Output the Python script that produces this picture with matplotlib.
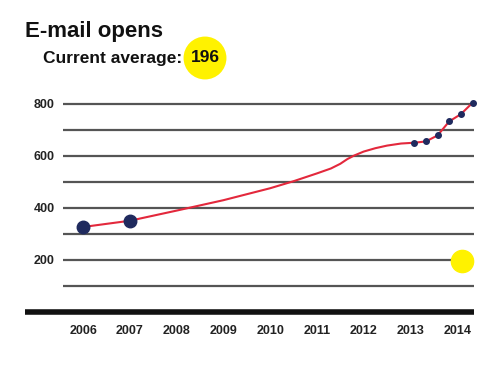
import matplotlib
matplotlib.use("Agg")
import matplotlib.pyplot as plt
from matplotlib import font_manager

names = {f.name for f in font_manager.fontManager.ttflist}
NARROW = "Liberation Sans Narrow" if "Liberation Sans Narrow" in names else "Liberation Sans"
MAIN = "Liberation Sans"

# Data
line_years = [2006, 2007, 2008, 2009, 2010, 2010.5, 2011, 2011.3, 2011.5, 2011.65,
              2011.8, 2012, 2012.25, 2012.5, 2012.8, 2013.08, 2013.33, 2013.58,
              2013.83, 2014.08, 2014.33]
line_vals = [327, 351, 390, 430, 476, 503, 533, 552, 570, 588,
             602, 617, 630, 640, 648, 651, 656, 679,
             733, 761, 805]
big_years = [2006, 2007]
big_vals = [327, 351]
small_years = [2013.08, 2013.33, 2013.58, 2013.83, 2014.08, 2014.33]
small_vals = [651, 656, 679, 733, 761, 805]
current_year = 2014.1
current_avg = 196
xticks = [2006, 2007, 2008, 2009, 2010, 2011, 2012, 2013, 2014]
grid_vals = [100, 200, 300, 400, 500, 600, 700, 800]
ylabels = [200, 400, 600, 800]

W, H = 500, 386
fig = plt.figure(figsize=(W / 100, H / 100), dpi=100)
fig.patch.set_facecolor("white")
ax = fig.add_axes([63 / W, (H - 312) / H, (474 - 63) / W, (312 - 98.8) / H])
ax.set_xlim(2005.57, 2014.36)
ax.set_ylim(0, 820)
for s in ax.spines.values():
    s.set_visible(False)

for g in grid_vals:
    ax.axhline(g, color="#555555", lw=1.6, zorder=1, solid_capstyle="butt")
ax.axhline(0, xmin=-0.092, xmax=1.0, color="#111111", lw=4, clip_on=False,
           zorder=2, solid_capstyle="butt")

ax.plot(line_years, line_vals, color="#e3283c", lw=1.5, zorder=3, clip_on=False,
        solid_joinstyle="round")
ax.plot(big_years, big_vals, "o", color="#1f2a5e", ms=9, zorder=4, clip_on=False)
ax.plot(small_years, small_vals, "o", color="#1f2a5e", ms=4, zorder=4, clip_on=False)
ax.plot([current_year], [current_avg], "o", color="#fff200", ms=16, zorder=4, clip_on=False)

ax.set_xticks(xticks)
ax.set_xticklabels([str(x) for x in xticks], fontfamily=NARROW, fontweight="bold",
                   fontsize=9, color="#222222")
ax.set_yticks(ylabels)
ax.set_yticklabels([str(v) for v in ylabels], fontfamily=NARROW, fontweight="bold",
                   fontsize=9, color="#222222")
ax.tick_params(axis="both", length=0)
ax.tick_params(axis="x", pad=9)
ax.tick_params(axis="y", pad=6)

fig.text(25 / W, 1 - 32 / H, "E-mail opens", fontfamily=MAIN, fontweight="bold",
         fontsize=16, color="#111111", va="center", ha="left")
fig.text(43 / W, 1 - 58 / H, "Current average:", fontfamily=MAIN, fontweight="bold",
         fontsize=12.5, color="#111111", va="center", ha="left")
fig.text(205 / W, 1 - 58 / H, str(current_avg), fontfamily=MAIN, fontweight="bold",
         fontsize=12.5, color="#111111", va="center", ha="center",
         bbox=dict(boxstyle="circle,pad=0.4", fc="#fff200", ec="none"))

fig.savefig("out.png", dpi=100, facecolor="white")
